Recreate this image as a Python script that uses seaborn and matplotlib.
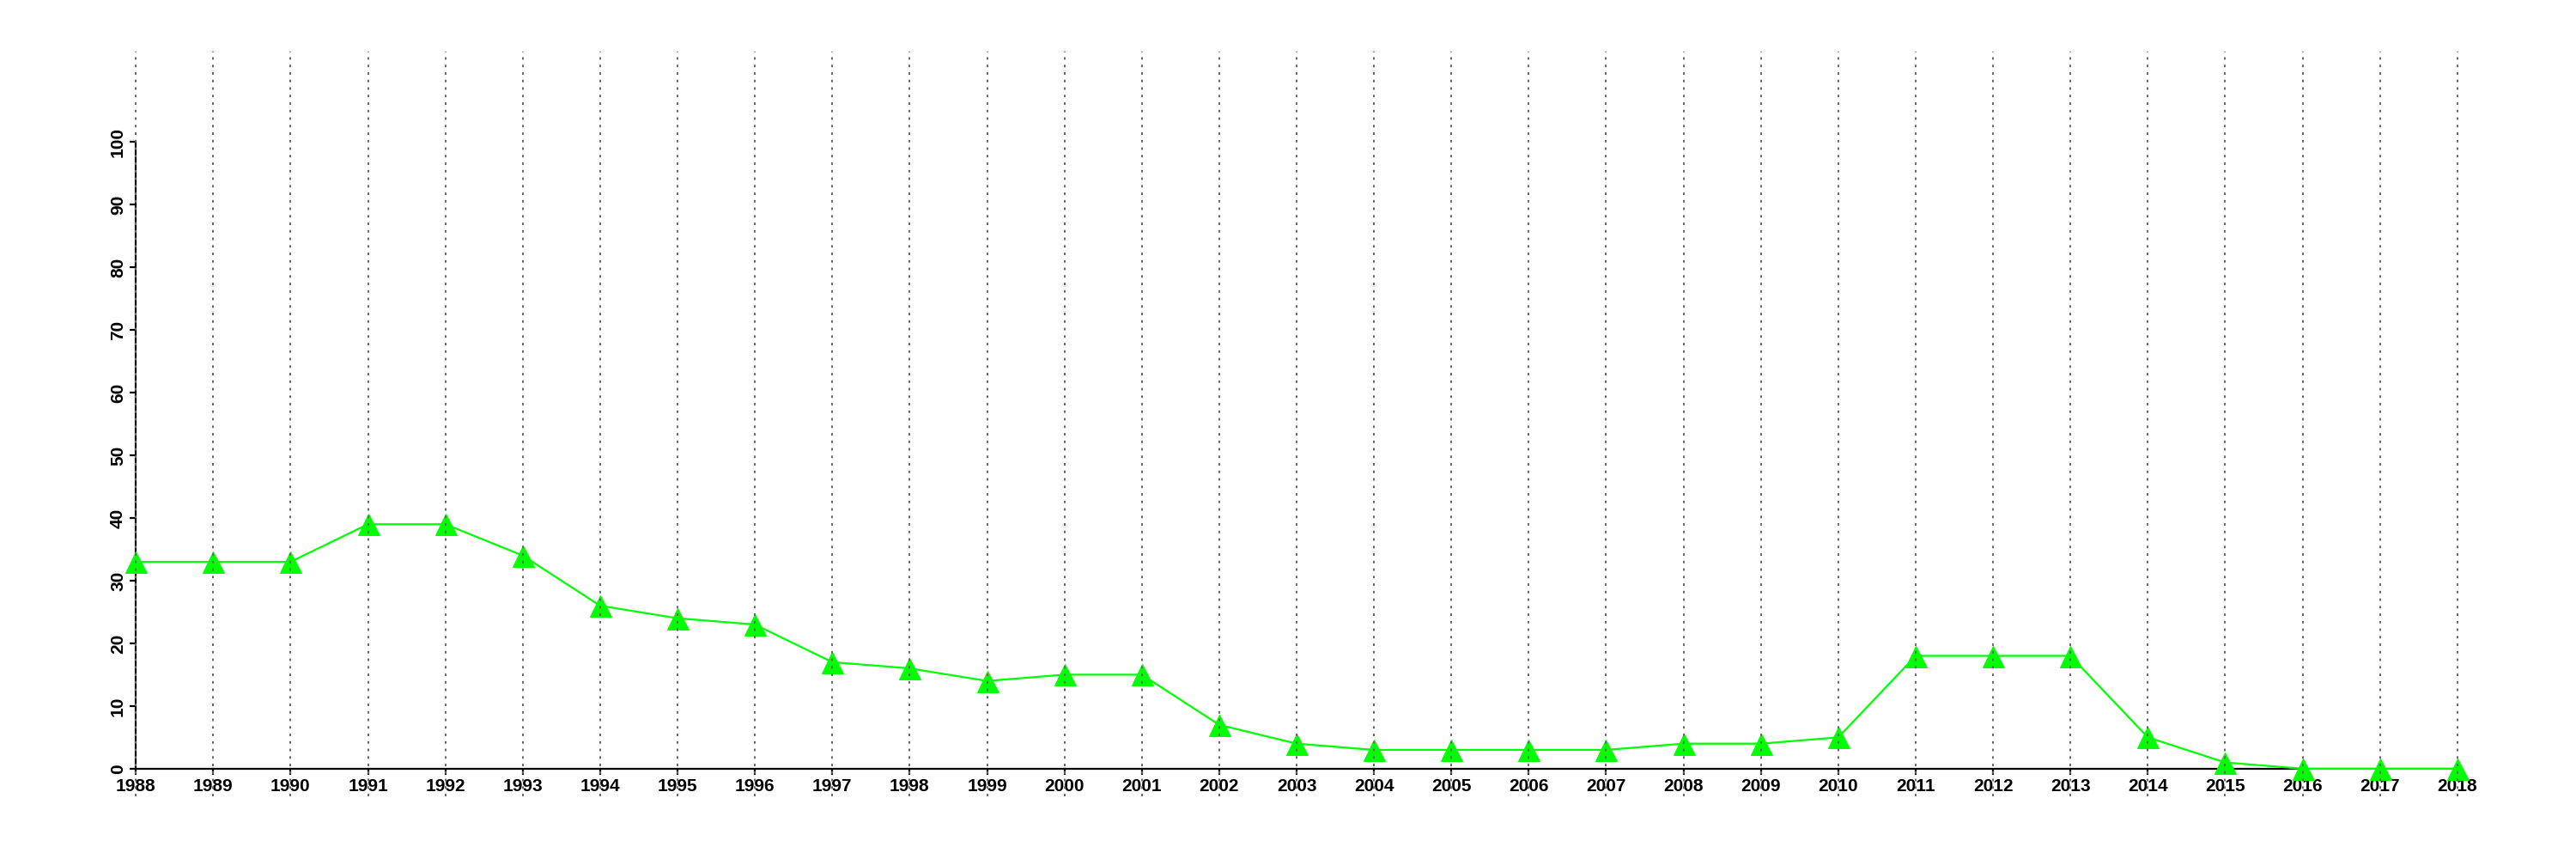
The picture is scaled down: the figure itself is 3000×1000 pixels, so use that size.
import pandas as pd
import seaborn as sns
import matplotlib
matplotlib.use('Agg')
import matplotlib.pyplot as plt

# chart data
years = list(range(1988, 2019))
values = [33, 33, 33, 39, 39, 34, 26, 24, 23, 17, 16, 14, 15, 15, 7, 4,
          3, 3, 3, 3, 4, 4, 5, 18, 18, 18, 5, 1, 0, 0, 0]
y_ticks = list(range(0, 101, 10))

df = pd.DataFrame({'year': years, 'value': values})

sns.set_style('white')
plt.rcParams['font.family'] = ['Liberation Sans', 'DejaVu Sans']
plt.rcParams['font.weight'] = 'bold'
plt.rcParams['font.size'] = 15

fig = plt.figure(figsize=(30, 10), dpi=100)
ax = fig.add_axes([50 / 3000, 73 / 1000, 2920 / 3000, 867 / 1000])

sns.lineplot(data=df, x='year', y='value', ax=ax, color='#00ff00',
             linewidth=1.6, marker='^', markersize=18,
             markeredgecolor='#00ff00', markerfacecolor='#00ff00', zorder=3)

# vertical dotted reference lines
for yr in years:
    ax.axvline(yr, color='#666666', linestyle=(0, (1.5, 3)), linewidth=1.4,
               zorder=5, clip_on=False)

ax.set_xlim(1988 - 1.2, 2018 + 1.2)
ax.set_ylim(-4.4, 114.4)
ax.set_xticks(years)
ax.set_yticks(y_ticks)
ax.set_xlabel('')
ax.set_ylabel('')

for side in ['top', 'right']:
    ax.spines[side].set_visible(False)
ax.spines['left'].set_position(('data', 1988))
ax.spines['bottom'].set_position(('data', 0))
ax.spines['left'].set_bounds(0, 100)
ax.spines['bottom'].set_bounds(1988, 2018)
for side in ['left', 'bottom']:
    ax.spines[side].set_linewidth(1.6)
    ax.spines[side].set_color('black')

ax.tick_params(axis='both', direction='out', length=5, width=1.6,
               color='black', pad=3, bottom=True, left=True,
               labelsize=15, labelcolor='black')
ax.set_xticklabels([str(y) for y in years], fontsize=15, fontweight='bold')
ax.set_yticklabels([str(v) for v in y_ticks], fontsize=15, fontweight='bold',
                   rotation=90, va='center')
ax.grid(False)

fig.savefig('out.png', dpi=100)
